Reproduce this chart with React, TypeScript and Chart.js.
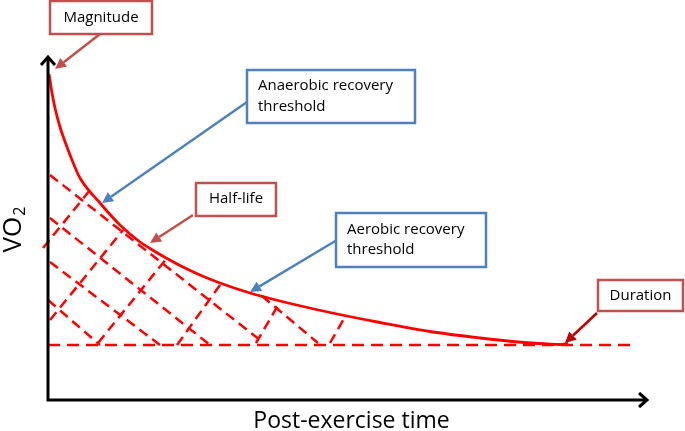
import { useEffect, useRef } from "react";
import { Chart, registerables } from "chart.js";

Chart.register(...registerables);

// ---- Data (time units, VO2 units) ----
const curveTime = [1, 4, 7, 12, 19, 24, 32, 52, 72, 92, 102, 112, 132, 152, 172, 202, 232, 282, 332, 382, 432, 470, 500, 512, 520];
const curveVO2 = [326, 307, 292, 273, 253, 240, 222, 197, 175, 158, 151.5, 145.5, 134.5, 125, 117, 107, 99, 87.5, 77.5, 68.5, 62, 58, 56, 55.5, 56.5];
const baselineTime = [0, 584];
const baselineVO2 = [55, 55];
// hatch segments: [t1, v1, t2, v2]
const hatchDown = [
  [2, 225, 212, 60],
  [2, 182, 162, 55],
  [2, 138, 112, 55],
  [0, 100, 52, 55],
  [214, 104, 270, 57],
];
const hatchUp = [
  [-5, 152, 42, 210],
  [2, 80, 75, 170],
  [50, 57, 119, 142],
  [129, 55, 172, 115],
  [208, 57, 232, 98],
  [282, 57, 297, 83],
];
const xTitle = "Post-exercise time";
const yTitleMain = "VO";
const yTitleSub = "2";
const annotationTexts = [
  ["Magnitude"],
  ["Anaerobic recovery", "threshold"],
  ["Half-life"],
  ["Aerobic recovery", "threshold"],
  ["Duration"],
];
// points on the chart (time, VO2) that each annotation arrow points to
const annotationTargets = [
  [7, 331],
  [54, 197],
  [102, 157],
  [202, 108],
  [517, 57],
];

// ---- Layout / style (pixels) ----
const RED = "#ff0000";
const BOX_RED = "#c0504d";
const BOX_BLUE = "#4f81bd";
const FONT = "'Open Sans', 'DejaVu Sans', sans-serif";
const boxLayout = [
  { x: 50, y: 1, w: 102, h: 33, align: "center", fx: 100, fy: 34, border: BOX_RED, arrow: BOX_RED, lines: [18] },
  { x: 247, y: 70, w: 168, h: 53, align: "left", fx: 247, fy: 102, border: BOX_BLUE, arrow: BOX_BLUE, lines: [86, 107] },
  { x: 196, y: 183, w: 80, h: 33, align: "center", fx: 193, fy: 215, border: BOX_RED, arrow: BOX_RED, lines: [199] },
  { x: 336, y: 213, w: 150, h: 54, align: "left", fx: 337, fy: 240, border: BOX_BLUE, arrow: BOX_BLUE, lines: [230, 250] },
  { x: 598, y: 280, w: 85, h: 31, align: "center", fx: 597, fy: 313, border: BOX_RED, arrow: "#c00000", lines: [296] },
];

function drawArrow(ctx: CanvasRenderingContext2D, x1: number, y1: number, x2: number, y2: number, color: string, w: number) {
  const a = Math.atan2(y2 - y1, x2 - x1);
  const L = 11;
  const H = 5.5;
  const bx = x2 - L * Math.cos(a);
  const by = y2 - L * Math.sin(a);
  ctx.save();
  ctx.strokeStyle = color;
  ctx.fillStyle = color;
  ctx.lineWidth = w;
  ctx.beginPath();
  ctx.moveTo(x1, y1);
  ctx.lineTo(bx, by);
  ctx.stroke();
  ctx.beginPath();
  ctx.moveTo(x2, y2);
  ctx.lineTo(bx + H * Math.sin(a), by - H * Math.cos(a));
  ctx.lineTo(bx - H * Math.sin(a), by + H * Math.cos(a));
  ctx.closePath();
  ctx.fill();
  ctx.restore();
}

const overlayPlugin = {
  id: "overlay",
  afterDraw(chart: any) {
    const ctx: CanvasRenderingContext2D = chart.ctx;
    const xs = chart.scales.x;
    const ys = chart.scales.y;
    const ox = xs.getPixelForValue(0);
    const oy = ys.getPixelForValue(0);
    const topY = ys.top - 1;
    const rightX = xs.right + 7;

    // axes
    ctx.save();
    ctx.strokeStyle = "#000";
    ctx.lineWidth = 3;
    ctx.lineCap = "butt";
    ctx.beginPath();
    ctx.moveTo(ox, oy + 1.5);
    ctx.lineTo(ox, topY + 1);
    ctx.moveTo(ox - 1.5, oy);
    ctx.lineTo(rightX - 1, oy);
    ctx.stroke();
    ctx.lineJoin = "miter";
    ctx.beginPath();
    ctx.moveTo(ox - 7, topY + 8);
    ctx.lineTo(ox, topY);
    ctx.lineTo(ox + 7, topY + 8);
    ctx.moveTo(rightX - 8, oy - 7);
    ctx.lineTo(rightX, oy);
    ctx.lineTo(rightX - 8, oy + 7);
    ctx.stroke();

    // axis titles
    ctx.fillStyle = "#000";
    ctx.font = `23px ${FONT}`;
    ctx.textAlign = "center";
    ctx.textBaseline = "middle";
    ctx.fillText(xTitle, (ox + rightX) / 2 + 4, 421);

    ctx.translate(14, 230);
    ctx.rotate(-Math.PI / 2);
    ctx.font = `26px ${FONT}`;
    const w1 = ctx.measureText(yTitleMain).width;
    ctx.font = `16px ${FONT}`;
    const w2 = ctx.measureText(yTitleSub).width;
    const start = -(w1 + w2) / 2;
    ctx.textAlign = "left";
    ctx.font = `26px ${FONT}`;
    ctx.fillText(yTitleMain, start, 0);
    ctx.font = `16px ${FONT}`;
    ctx.fillText(yTitleSub, start + w1 + 1, 6);
    ctx.restore();

    // annotation boxes + arrows
    boxLayout.forEach((b, i) => {
      const t = annotationTargets[i];
      const tx = xs.getPixelForValue(t[0]);
      const ty = ys.getPixelForValue(t[1]);
      drawArrow(ctx, b.fx, b.fy, tx, ty, b.arrow, 2.5);
      ctx.save();
      ctx.fillStyle = "#fff";
      ctx.fillRect(b.x, b.y, b.w, b.h);
      ctx.strokeStyle = b.border;
      ctx.lineWidth = 2.5;
      ctx.strokeRect(b.x, b.y, b.w, b.h);
      ctx.fillStyle = "#000";
      ctx.font = `15px ${FONT}`;
      ctx.textBaseline = "middle";
      annotationTexts[i].forEach((line, j) => {
        if (b.align === "center") {
          ctx.textAlign = "center";
          ctx.fillText(line, b.x + b.w / 2, b.lines[j]);
        } else {
          ctx.textAlign = "left";
          ctx.fillText(line, b.x + 11, b.lines[j]);
        }
      });
      ctx.restore();
    });
  },
};

export default function App() {
  const ref = useRef<HTMLCanvasElement>(null);
  useEffect(() => {
    const canvas = ref.current;
    if (!canvas) return;
    const seg = (s: number[]) => [
      { x: s[0], y: s[1] },
      { x: s[2], y: s[3] },
    ];
    const hatchStyle = {
      borderColor: RED,
      borderWidth: 2.5,
      borderDash: [10, 6],
      pointRadius: 0,
      fill: false,
      tension: 0,
      clip: false as any,
    };
    const datasets: any[] = [
      ...hatchDown.map((s) => ({ data: seg(s), ...hatchStyle })),
      ...hatchUp.map((s) => ({ data: seg(s), ...hatchStyle })),
      {
        data: baselineTime.map((x, i) => ({ x, y: baselineVO2[i] })),
        ...hatchStyle,
        borderDash: [12, 7],
      },
      {
        data: curveTime.map((x, i) => ({ x, y: curveVO2[i] })),
        borderColor: RED,
        borderWidth: 2.8,
        pointRadius: 0,
        fill: false,
        cubicInterpolationMode: "monotone",
        clip: false,
      },
    ];
    const chart = new Chart(canvas, {
      type: "line",
      data: { datasets },
      options: {
        responsive: false,
        animation: false,
        events: [],
        layout: { padding: { left: 40, right: 45, top: 58, bottom: 31 } },
        scales: {
          x: { type: "linear", min: -8, max: 592, display: false },
          y: { type: "linear", min: 0, max: 342, display: false },
        },
        plugins: { legend: { display: false }, tooltip: { enabled: false }, title: { display: false } },
      },
      plugins: [overlayPlugin],
    } as any);
    return () => chart.destroy();
  }, []);
  return (
    <div style={{ position: "fixed", left: 0, top: 0, width: 685, height: 431, background: "#fff" }}>
      <canvas ref={ref} width={685} height={431} style={{ display: "block" }} />
    </div>
  );
}
